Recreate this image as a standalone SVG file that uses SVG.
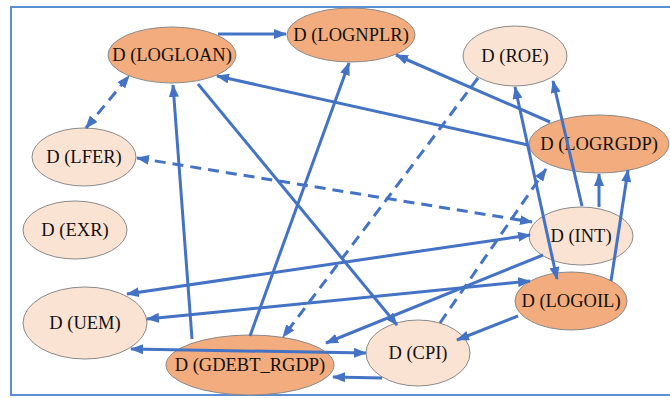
<svg xmlns="http://www.w3.org/2000/svg" width="670" height="398" viewBox="0 0 670 398">
<style>
.n ellipse{stroke:#8a8a8a;stroke-width:1}
.o ellipse{fill:#F2AC7E}
.l ellipse{fill:#FBE3D3}
.n text{font-size:18.5px;fill:#111;text-anchor:middle}
.c line{stroke:#4472C4;stroke-width:3;fill:none}
.c .d{stroke-dasharray:11 7}
</style>
<defs>
<marker id="a" markerUnits="userSpaceOnUse" markerWidth="13" markerHeight="10" refX="12" refY="5" orient="auto-start-reverse" viewBox="0 0 13 10">
<path d="M0,0 L13,5 L0,10 z" fill="#4472C4"/>
</marker>
</defs>
<rect width="670" height="398" fill="#fff"/>
<path d="M670,7 L11,7 L11,395 L670,395" fill="none" stroke="#5B8FD3" stroke-width="2"/>
<g id="nodes" font-family="Liberation Serif, Times New Roman, serif">
<g id="LOGLOAN" class="n o"><ellipse cx="172" cy="55" rx="64" ry="28"/><text x="172" y="61">D (LOGLOAN)</text></g>
<g id="LOGNPLR" class="n o"><ellipse cx="351" cy="35" rx="64" ry="27"/><text x="351" y="41">D (LOGNPLR)</text></g>
<g id="ROE" class="n l"><ellipse cx="515" cy="56" rx="52" ry="30"/><text x="515" y="62">D (ROE)</text></g>
<g id="LOGRGDP" class="n o"><ellipse cx="599" cy="144" rx="70" ry="29"/><text x="599" y="150">D (LOGRGDP)</text></g>
<g id="LFER" class="n l"><ellipse cx="84" cy="157" rx="52" ry="29"/><text x="84" y="163">D (LFER)</text></g>
<g id="EXR" class="n l"><ellipse cx="75" cy="230" rx="52" ry="29"/><text x="75" y="236">D (EXR)</text></g>
<g id="INT" class="n l"><ellipse cx="581" cy="236" rx="52" ry="29"/><text x="581" y="242">D (INT)</text></g>
<g id="UEM" class="n l"><ellipse cx="85" cy="323" rx="62" ry="36"/><text x="85" y="329">D (UEM)</text></g>
<g id="LOGOIL" class="n o"><ellipse cx="571" cy="301" rx="56" ry="29"/><text x="571" y="307">D (LOGOIL)</text></g>
<g id="GDEBT_RGDP" class="n o"><ellipse cx="250" cy="365" rx="84" ry="30"/><text x="250" y="371">D (GDEBT_RGDP)</text></g>
<g id="CPI" class="n l"><ellipse cx="418" cy="353" rx="52" ry="33"/><text x="418" y="359">D (CPI)</text></g>
</g>
<g id="connectors" class="c">
<line x1="218" y1="34" x2="286" y2="34" marker-end="url(#a)"/>
<line class="d" x1="86" y1="128" x2="129" y2="76" marker-start="url(#a)" marker-end="url(#a)"/>
<line class="d" x1="137" y1="158" x2="532" y2="222" marker-start="url(#a)" marker-end="url(#a)"/>
<line x1="528" y1="145" x2="217" y2="76" marker-end="url(#a)"/>
<line x1="550" y1="122" x2="396" y2="55" marker-end="url(#a)"/>
<line class="d" x1="478" y1="78" x2="283" y2="337" marker-end="url(#a)"/>
<line class="d" x1="440" y1="323" x2="546" y2="169" marker-end="url(#a)"/>
<line x1="582" y1="206" x2="553" y2="81" marker-end="url(#a)"/>
<line x1="515" y1="87" x2="557" y2="279" marker-start="url(#a)" marker-end="url(#a)"/>
<line x1="599" y1="207" x2="599" y2="174" marker-end="url(#a)"/>
<line x1="611" y1="281" x2="628" y2="170" marker-end="url(#a)"/>
<line x1="192" y1="339" x2="173" y2="85" marker-end="url(#a)"/>
<line x1="250" y1="336" x2="349" y2="63" marker-end="url(#a)"/>
<line x1="198" y1="84" x2="397" y2="325" marker-end="url(#a)"/>
<line x1="530" y1="235" x2="127" y2="294" marker-start="url(#a)" marker-end="url(#a)"/>
<line x1="530" y1="281" x2="147" y2="319" marker-start="url(#a)" marker-end="url(#a)"/>
<line x1="543" y1="255" x2="326" y2="343" marker-end="url(#a)"/>
<line x1="518" y1="316" x2="457" y2="340" marker-end="url(#a)"/>
<line x1="131" y1="349" x2="366" y2="353" marker-start="url(#a)" marker-end="url(#a)"/>
<line x1="382" y1="378" x2="333" y2="377" marker-end="url(#a)"/>
</g>
</svg>
